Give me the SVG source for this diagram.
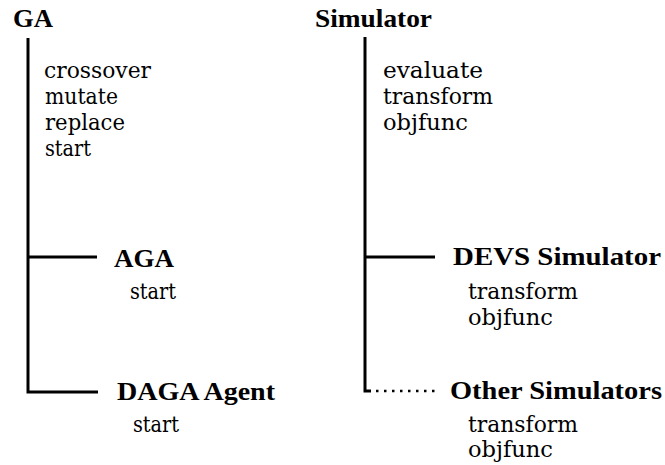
<svg xmlns="http://www.w3.org/2000/svg" width="665" height="465" viewBox="0 0 665 465">
  <style>
    .name { font-family: "Liberation Serif", "Times New Roman", serif; font-weight: 700; font-size: 25px; fill: #000; }
    .op { font-family: "DejaVu Serif", serif; font-weight: 400; font-size: 22px; fill: #000; }
    .tree { fill: none; stroke: #000; stroke-width: 3; }
    .tree-dotted { fill: none; stroke: #000; stroke-width: 2.5; stroke-dasharray: 2.5 5.5; }
  </style>
  <rect width="665" height="465" fill="#fff"/>

  <!-- class hierarchy connectors -->
  <g id="connectors">
    <path class="tree" d="M28,38 V392 H98"/>
    <path class="tree" d="M28,257 H97"/>
    <path class="tree" d="M365,37 V391 H371"/>
    <path class="tree" d="M365,257 H435"/>
    <path class="tree-dotted" d="M376,391 H437"/>
  </g>

  <g id="ga">
    <text class="name" x="13" y="27" textLength="40" lengthAdjust="spacingAndGlyphs">GA</text>
    <text class="op" x="44" y="78" textLength="107" lengthAdjust="spacingAndGlyphs">crossover</text>
    <text class="op" x="45" y="104" textLength="73" lengthAdjust="spacingAndGlyphs">mutate</text>
    <text class="op" x="45" y="130" textLength="80" lengthAdjust="spacingAndGlyphs">replace</text>
    <text class="op" x="45" y="156" textLength="46" lengthAdjust="spacingAndGlyphs">start</text>
  </g>

  <g id="aga">
    <text class="name" x="114" y="267" textLength="60" lengthAdjust="spacingAndGlyphs">AGA</text>
    <text class="op" x="130" y="299" textLength="46" lengthAdjust="spacingAndGlyphs">start</text>
  </g>

  <g id="daga-agent">
    <text class="name" x="117" y="400" textLength="158" lengthAdjust="spacingAndGlyphs">DAGA Agent</text>
    <text class="op" x="133" y="432" textLength="46" lengthAdjust="spacingAndGlyphs">start</text>
  </g>

  <g id="simulator">
    <text class="name" x="315" y="27" textLength="117" lengthAdjust="spacingAndGlyphs">Simulator</text>
    <text class="op" x="383" y="78" textLength="100" lengthAdjust="spacingAndGlyphs">evaluate</text>
    <text class="op" x="383" y="104" textLength="110" lengthAdjust="spacingAndGlyphs">transform</text>
    <text class="op" x="383" y="130" textLength="85" lengthAdjust="spacingAndGlyphs">objfunc</text>
  </g>

  <g id="devs-simulator">
    <text class="name" x="453" y="265" textLength="208" lengthAdjust="spacingAndGlyphs">DEVS Simulator</text>
    <text class="op" x="468" y="299" textLength="110" lengthAdjust="spacingAndGlyphs">transform</text>
    <text class="op" x="468" y="325" textLength="85" lengthAdjust="spacingAndGlyphs">objfunc</text>
  </g>

  <g id="other-simulators">
    <text class="name" x="450" y="399" textLength="212" lengthAdjust="spacingAndGlyphs">Other Simulators</text>
    <text class="op" x="468" y="432" textLength="110" lengthAdjust="spacingAndGlyphs">transform</text>
    <text class="op" x="468" y="457" textLength="85" lengthAdjust="spacingAndGlyphs">objfunc</text>
  </g>
</svg>
